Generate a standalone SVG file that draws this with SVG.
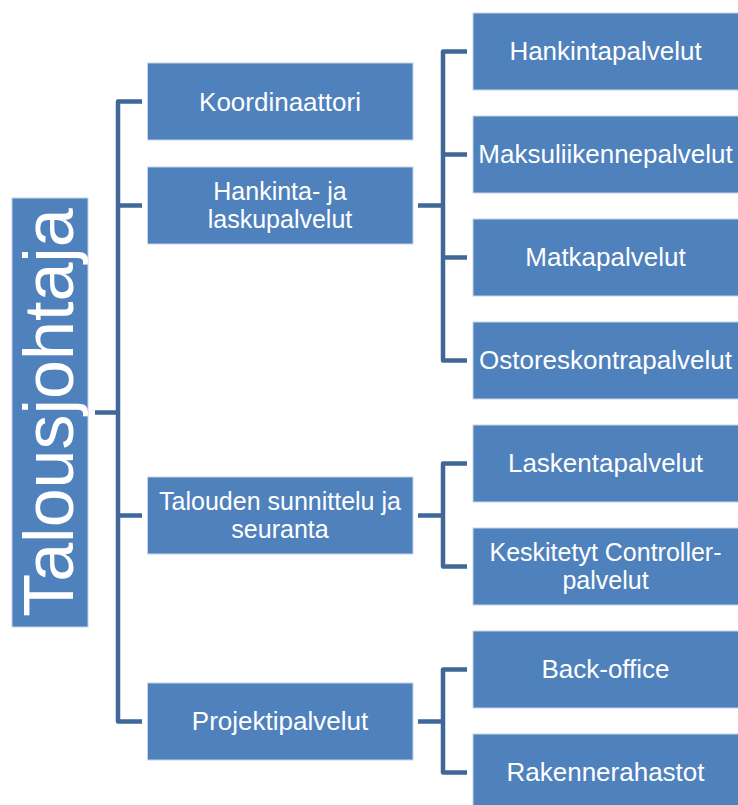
<svg xmlns="http://www.w3.org/2000/svg" width="738" height="805" viewBox="0 0 738 805">
  <style>
    .box { fill: #4f81bd; stroke: #c5d3e8; stroke-width: 1; }
    .lbl { fill: #ffffff; font-family: "Liberation Sans", Arial, sans-serif; font-size: 26px; text-anchor: middle; }
    .lbl2 { font-size: 25px; }
    .root { fill: #ffffff; font-family: "Liberation Sans", Arial, sans-serif; font-size: 70px; text-anchor: middle; }
    .wire { fill: none; stroke: #3f6797; stroke-width: 4.5; stroke-linejoin: round; stroke-linecap: butt; }
  </style>
  <rect width="738" height="805" fill="#ffffff"/>

  <!-- connectors -->
  <g id="connectors" class="wire">
    <path d="M95,412.5 H118"/>
    <path d="M142,101.5 H118 V721.5 H142"/>
    <path d="M118,205.5 H142"/>
    <path d="M118,515.5 H142"/>

    <path d="M418,205.5 H443"/>
    <path d="M467,51.5 H443 V360.5 H467"/>
    <path d="M443,154.5 H467"/>
    <path d="M443,257.5 H467"/>

    <path d="M418,515.5 H443"/>
    <path d="M467,463.5 H443 V566.5 H467"/>

    <path d="M418,721.5 H443"/>
    <path d="M467,669.5 H443 V772.5 H467"/>
  </g>

  <!-- root -->
  <g id="talousjohtaja">
    <rect class="box" x="12" y="198" width="76" height="429"/>
    <text class="root" transform="translate(73,412.5) rotate(-90)">Talousjohtaja</text>
  </g>

  <!-- second level -->
  <g id="koordinaattori">
    <rect class="box" x="147.5" y="63" width="265.5" height="77"/>
    <text class="lbl" x="280" y="110.5">Koordinaattori</text>
  </g>
  <g id="hankinta-ja-laskupalvelut">
    <rect class="box" x="147.5" y="167" width="265.5" height="77"/>
    <text class="lbl lbl2"><tspan x="280" y="200">Hankinta- ja</tspan><tspan x="280" y="228">laskupalvelut</tspan></text>
  </g>
  <g id="talouden-suunnittelu">
    <rect class="box" x="147.5" y="477" width="265.5" height="77"/>
    <text class="lbl lbl2"><tspan x="280" y="510">Talouden sunnittelu ja</tspan><tspan x="280" y="538">seuranta</tspan></text>
  </g>
  <g id="projektipalvelut">
    <rect class="box" x="147.5" y="683" width="265.5" height="77"/>
    <text class="lbl" x="280" y="730">Projektipalvelut</text>
  </g>

  <!-- third level -->
  <g id="hankintapalvelut">
    <rect class="box" x="473" y="13" width="266" height="77"/>
    <text class="lbl" x="605.5" y="60">Hankintapalvelut</text>
  </g>
  <g id="maksuliikennepalvelut">
    <rect class="box" x="473" y="116" width="266" height="77"/>
    <text class="lbl" x="605.5" y="163">Maksuliikennepalvelut</text>
  </g>
  <g id="matkapalvelut">
    <rect class="box" x="473" y="219" width="266" height="77"/>
    <text class="lbl" x="605.5" y="266">Matkapalvelut</text>
  </g>
  <g id="ostoreskontrapalvelut">
    <rect class="box" x="473" y="322" width="266" height="77"/>
    <text class="lbl" x="605.5" y="369">Ostoreskontrapalvelut</text>
  </g>
  <g id="laskentapalvelut">
    <rect class="box" x="473" y="425" width="266" height="77"/>
    <text class="lbl" x="605.5" y="472">Laskentapalvelut</text>
  </g>
  <g id="keskitetyt-controller-palvelut">
    <rect class="box" x="473" y="528" width="266" height="77"/>
    <text class="lbl lbl2"><tspan x="605.5" y="561">Keskitetyt Controller-</tspan><tspan x="605.5" y="589">palvelut</tspan></text>
  </g>
  <g id="back-office">
    <rect class="box" x="473" y="631" width="266" height="77"/>
    <text class="lbl" x="605.5" y="678">Back-office</text>
  </g>
  <g id="rakennerahastot">
    <rect class="box" x="473" y="734" width="266" height="77"/>
    <text class="lbl" x="605.5" y="781">Rakennerahastot</text>
  </g>
</svg>
